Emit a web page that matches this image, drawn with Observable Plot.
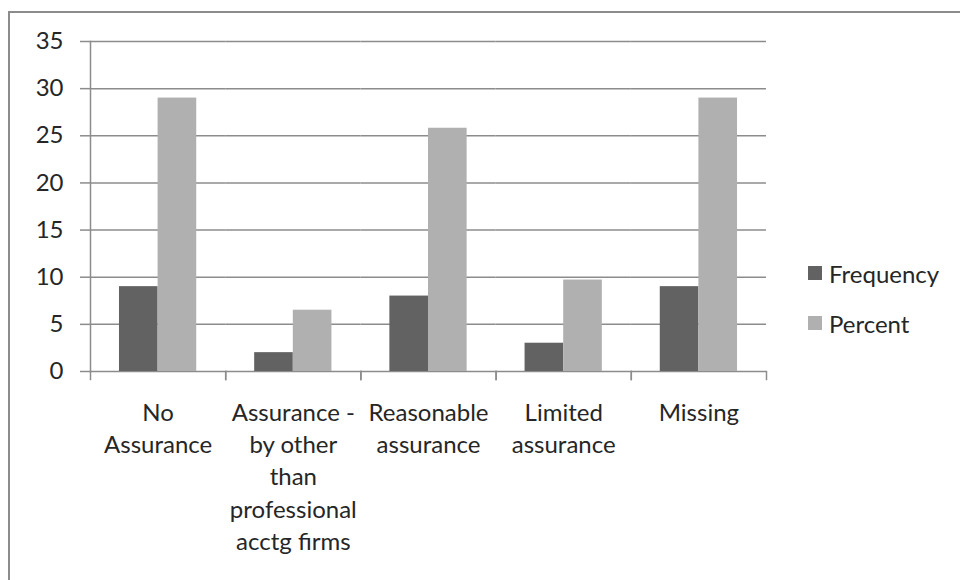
<!DOCTYPE html>
<html>
<head>
<meta charset="utf-8">
<script src="https://cdn.jsdelivr.net/npm/d3@7"></script>
<script src="https://cdn.jsdelivr.net/npm/@observablehq/plot@0.6"></script>
<style>
  html, body { margin: 0; padding: 0; background: #fff; }
  #wrap { position: relative; width: 960px; height: 580px; overflow: hidden; background: #fff; font-family: Lato, "Noto Sans", sans-serif; }
  #border { position: absolute; left: 8px; top: 11px; width: 1000px; height: 620px; border-top: 2px solid #8c8c8c; border-left: 2px solid #8c8c8c; box-sizing: border-box; }
  #chart { position: absolute; left: 0; top: 0; }
  #legend { position: absolute; left: 808px; top: 257px; font-size: 24px; color: #262626; }
  #legend .row { display: flex; align-items: center; height: 32px; margin-bottom: 18px; }
  #legend .sw { width: 14px; height: 14px; margin-right: 7px; }
</style>
</head>
<body>
<div id="wrap">
  <div id="border"></div>
  <div id="chart"></div>
  <div id="legend"></div>
</div>
<script>
// Assurance categories (line breaks as they wrap under the axis)
const categories = [
  "No\nAssurance",
  "Assurance -\nby other\nthan\nprofessional\nacctg firms",
  "Reasonable\nassurance",
  "Limited\nassurance",
  "Missing"
];
const seriesNames = ["Frequency", "Percent"];
const frequency = [9, 2, 8, 3, 9];
const percent = [29.0, 6.5, 25.8, 9.7, 29.0];
const yTicks = [0, 5, 10, 15, 20, 25, 30, 35];
const seriesColors = ["#626262", "#b0b0b0"];

// Long-format table for the grouped bars
const rows = [];
categories.forEach((c, i) => {
  rows.push({category: c, series: seriesNames[0], value: frequency[i]});
  rows.push({category: c, series: seriesNames[1], value: percent[i]});
});

const W = 960, H = 580;
const mTop = 41, mBottom = 209, mLeft = 90, mRight = 194;
const plotH = H - mTop - mBottom;
const axisColor = "#8c8c8c";
const textColor = "#262626";

const chart = Plot.plot({
  width: W,
  height: H,
  marginTop: mTop,
  marginBottom: mBottom,
  marginLeft: mLeft,
  marginRight: mRight,
  style: {background: "transparent", fontFamily: "Lato, 'Noto Sans', sans-serif", color: textColor},
  fx: {domain: categories, padding: 0, round: false},
  x: {domain: seriesNames, paddingInner: 0, paddingOuter: 0.75, round: false, axis: null},
  y: {domain: [0, 35]},
  color: {domain: seriesNames, range: seriesColors},
  marks: [
    Plot.gridY(yTicks, {stroke: axisColor, strokeOpacity: 1, strokeWidth: 1.5}),
    Plot.axisY(yTicks, {tickSize: 10, tickPadding: 17, fontSize: 24, stroke: axisColor, strokeWidth: 1.5, label: null, fill: textColor}),
    // vertical value axis line
    Plot.frame({anchor: "left", facet: "super", stroke: axisColor, strokeWidth: 1.5}),
    // category boundary ticks below the baseline
    Plot.frame({anchor: "left", insetTop: plotH, insetBottom: -8, stroke: axisColor, strokeWidth: 1.5}),
    Plot.frame({anchor: "right", insetTop: plotH, insetBottom: -8, stroke: axisColor, strokeWidth: 1.5}),
    Plot.barY(rows, {fx: "category", x: "series", y: "value", fill: "series"}),
    Plot.axisFx({anchor: "bottom", tickSize: 0, tickPadding: 26, fontSize: 24, lineHeight: 1.35, label: null, fill: textColor})
  ]
});
document.getElementById("chart").appendChild(chart);

// Legend
const legend = document.getElementById("legend");
seriesNames.forEach((name, i) => {
  const row = document.createElement("div");
  row.className = "row";
  const sw = document.createElement("div");
  sw.className = "sw";
  sw.style.background = seriesColors[i];
  const label = document.createElement("span");
  label.textContent = name;
  row.appendChild(sw);
  row.appendChild(label);
  legend.appendChild(row);
});
</script>
</body>
</html>
